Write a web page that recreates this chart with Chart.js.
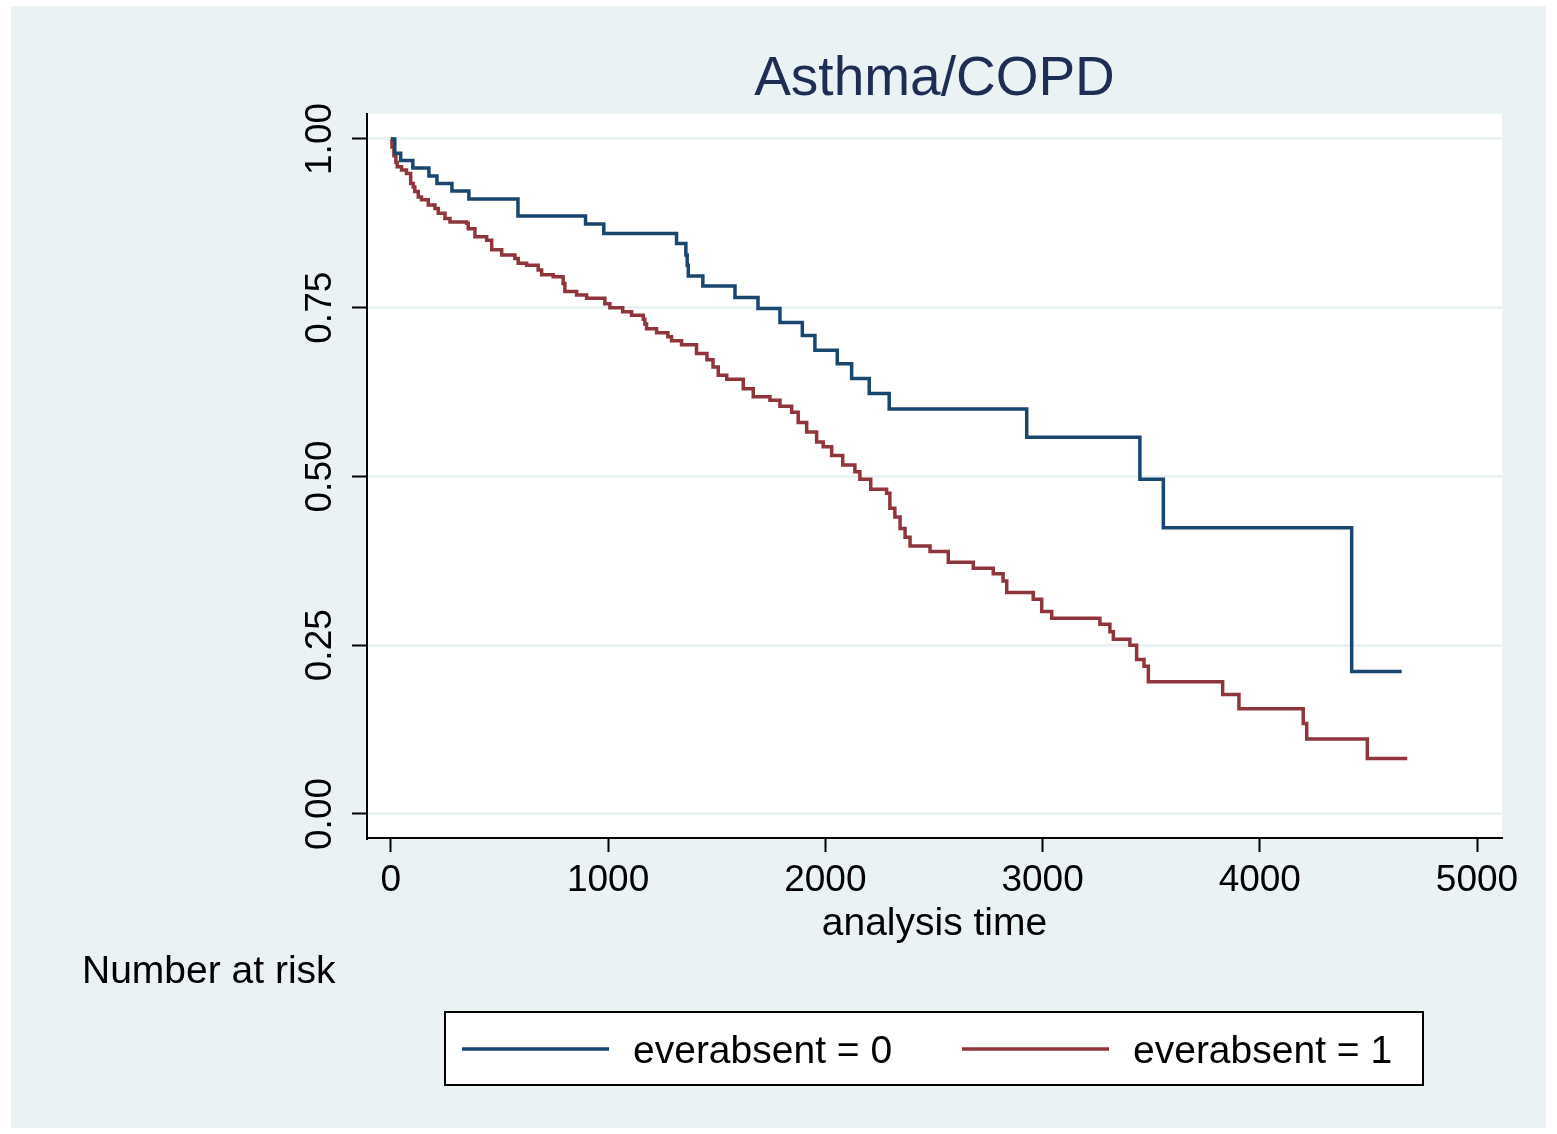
<!DOCTYPE html>
<html>
<head>
<meta charset="utf-8">
<title>Asthma/COPD</title>
<script src="https://cdn.jsdelivr.net/npm/chart.js@4.4.1/dist/chart.umd.min.js"></script>
<style>
  html, body { margin: 0; padding: 0; background: #ffffff; }
  canvas { display: block; }
</style>
</head>
<body>
<canvas id="kmChart" width="1557" height="1134"></canvas>
<script>
const groupLabels = ["everabsent = 0", "everabsent = 1"];
const timeTicks = [0, 1000, 2000, 3000, 4000, 5000];
const survivalTicks = [0, 0.25, 0.5, 0.75, 1];

// everabsent = 0
const times0 = [0, 18, 45, 101, 175, 212, 281, 359, 585, 896, 980, 1315, 1358, 1364, 1369,
  1436, 1584, 1690, 1791, 1894, 1952, 2055, 2121, 2202, 2294, 2927, 3448, 3556, 4423, 4653];
const surv0 = [1.0, 0.979, 0.968, 0.957, 0.945, 0.934, 0.923, 0.911, 0.886, 0.874, 0.860, 0.845, 0.828, 0.813, 0.797,
  0.782, 0.765, 0.749, 0.728, 0.709, 0.687, 0.667, 0.645, 0.623, 0.600, 0.558, 0.496, 0.424, 0.211, 0.211];

// everabsent = 1
const times1 = [0, 5, 14, 23, 29, 49, 72, 91, 103, 110, 126, 141, 172, 203, 218, 249, 272, 349, 356, 387,
  441, 464, 510, 571, 586, 625, 678, 694, 747, 793, 801, 855, 901, 985, 1008, 1067, 1108, 1162, 1169, 1177,
  1223, 1275, 1292, 1338, 1407, 1455, 1483, 1507, 1546, 1622, 1668, 1745, 1791, 1845, 1875, 1914, 1960, 1990,
  2029, 2080, 2136, 2159, 2209, 2282, 2297, 2320, 2344, 2367, 2390, 2482, 2566, 2681, 2773, 2818, 2835, 2957,
  2996, 3042, 3264, 3310, 3326, 3402, 3433, 3467, 3487, 3829, 3904, 4200, 4216, 4495, 4679];
const surv1 = [1.0, 0.988, 0.975, 0.965, 0.959, 0.954, 0.949, 0.934, 0.929, 0.922, 0.914, 0.910, 0.902, 0.897, 0.890,
  0.882, 0.877, 0.875, 0.867, 0.855, 0.850, 0.836, 0.828, 0.823, 0.816, 0.813, 0.806, 0.799, 0.796, 0.786,
  0.774, 0.769, 0.764, 0.756, 0.750, 0.744, 0.739, 0.733, 0.726, 0.719, 0.713, 0.707, 0.701, 0.695, 0.682,
  0.673, 0.662, 0.650, 0.644, 0.630, 0.618, 0.613, 0.604, 0.595, 0.580, 0.566, 0.551, 0.544, 0.531, 0.517,
  0.507, 0.496, 0.481, 0.475, 0.453, 0.440, 0.423, 0.410, 0.397, 0.389, 0.373, 0.364, 0.356, 0.345, 0.328,
  0.318, 0.300, 0.290, 0.281, 0.270, 0.259, 0.250, 0.229, 0.219, 0.196, 0.177, 0.156, 0.134, 0.111, 0.082, 0.082];

const lineColors = ["#1a476f", "#90353b"];
const bgColor = "#eaf2f3";
const fontFamily = "'Liberation Sans', Arial, Helvetica, sans-serif";

function toPoints(times, surv) {
  return times.map((t, i) => ({ x: t, y: surv[i] }));
}

// stata style background, plot region, legend box and "Number at risk"
const stataFrame = {
  id: "stataFrame",
  beforeDraw(chart) {
    const { ctx, chartArea } = chart;
    ctx.save();
    ctx.fillStyle = "#ffffff";
    ctx.fillRect(0, 0, chart.width, chart.height);
    ctx.fillStyle = bgColor;
    ctx.fillRect(11, 6, 1535, 1122);
    ctx.fillStyle = "#ffffff";
    ctx.fillRect(chartArea.left, chartArea.top, chartArea.right - chartArea.left, chartArea.bottom - chartArea.top);
    ctx.restore();
  },
  afterDraw(chart) {
    const { ctx } = chart;
    ctx.save();
    ctx.font = "39px " + fontFamily;
    ctx.fillStyle = "#000000";
    ctx.textBaseline = "middle";
    ctx.textAlign = "left";
    ctx.fillText("Number at risk", 82, 972);

    // legend
    ctx.fillStyle = "#ffffff";
    ctx.fillRect(445, 1012, 978, 73);
    ctx.strokeStyle = "#000000";
    ctx.lineWidth = 2;
    ctx.strokeRect(445, 1012, 978, 73);
    const starts = [462, 962];
    chart.data.datasets.forEach((ds, i) => {
      ctx.strokeStyle = ds.borderColor;
      ctx.lineWidth = 3.5;
      ctx.beginPath();
      ctx.moveTo(starts[i], 1049);
      ctx.lineTo(starts[i] + 147, 1049);
      ctx.stroke();
      ctx.fillStyle = "#000000";
      ctx.font = "39px " + fontFamily;
      ctx.fillText(ds.label, starts[i] + 171, 1052);
    });
    ctx.restore();
  }
};

const ctx = document.getElementById("kmChart").getContext("2d");
const kmChart = new Chart(ctx, {
  type: "line",
  data: {
    datasets: [
      {
        label: groupLabels[0],
        data: toPoints(times0, surv0),
        borderColor: lineColors[0],
        backgroundColor: lineColors[0],
        borderWidth: 3.5,
        stepped: "before",
        pointRadius: 0,
        fill: false
      },
      {
        label: groupLabels[1],
        data: toPoints(times1, surv1),
        borderColor: lineColors[1],
        backgroundColor: lineColors[1],
        borderWidth: 3.5,
        stepped: "before",
        pointRadius: 0,
        fill: false
      }
    ]
  },
  options: {
    responsive: false,
    animation: false,
    layout: {
      padding: { left: 0, top: 0, right: 55, bottom: 186 }
    },
    plugins: {
      legend: { display: false },
      tooltip: { enabled: false },
      title: {
        display: true,
        text: "Asthma/COPD",
        color: "#1e2d53",
        fullSize: false,
        font: { family: fontFamily, size: 55, weight: "normal" },
        padding: { top: 47, bottom: 1 }
      }
    },
    scales: {
      x: {
        type: "linear",
        min: -110,
        max: 5115,
        afterBuildTicks: (axis) => {
          axis.ticks = timeTicks.map(v => ({ value: v }));
        },
        afterFit: (scale) => { scale.height = 110; },
        grid: {
          drawOnChartArea: false,
          drawTicks: true,
          tickLength: 14,
          tickColor: "#000000",
          tickWidth: 2
        },
        border: { display: true, color: "#000000", width: 2 },
        ticks: {
          color: "#000000",
          padding: 7,
          maxRotation: 0,
          font: { family: fontFamily, size: 37 },
          callback: (v) => String(v)
        },
        title: {
          display: true,
          text: "analysis time",
          color: "#000000",
          padding: { top: 0, bottom: 0 },
          font: { family: fontFamily, size: 39 }
        }
      },
      y: {
        type: "linear",
        min: -0.0356,
        max: 1.037,
        afterBuildTicks: (axis) => {
          axis.ticks = survivalTicks.map(v => ({ value: v }));
        },
        afterFit: (scale) => { scale.width = 367; },
        grid: {
          color: bgColor,
          lineWidth: 3,
          drawTicks: true,
          tickLength: 15,
          tickColor: "#000000",
          tickWidth: 2
        },
        border: { display: true, color: "#000000", width: 2 },
        ticks: {
          color: "#000000",
          minRotation: 90,
          maxRotation: 90,
          crossAlign: "center",
          padding: -5,
          font: { family: fontFamily, size: 37 },
          callback: (v) => Number(v).toFixed(2)
        }
      }
    }
  },
  plugins: [stataFrame]
});
</script>
</body>
</html>
